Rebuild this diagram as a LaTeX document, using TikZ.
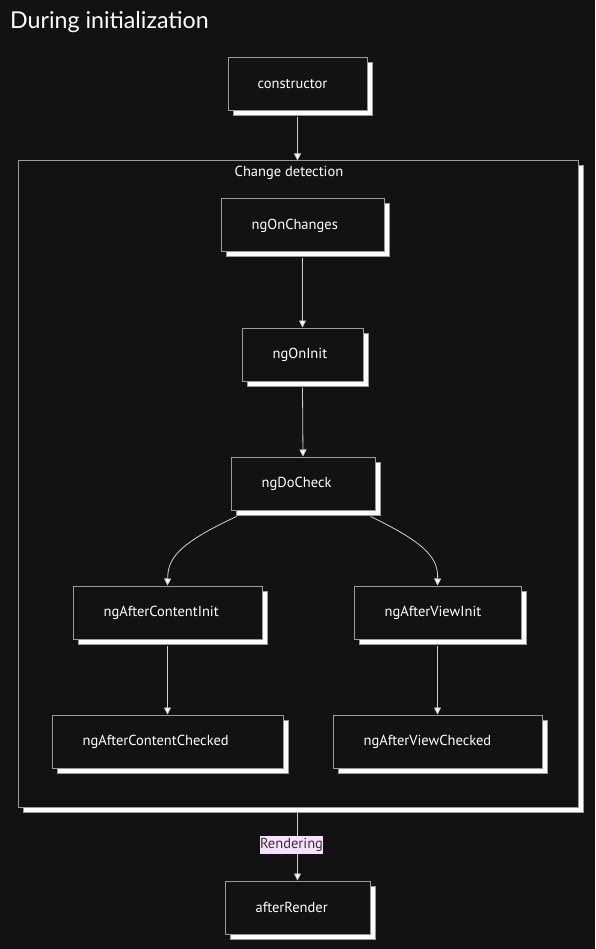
\documentclass[tikz,border=0pt]{standalone}
\usepackage{fontspec}
\setmainfont{PT Sans}
\newfontfamily\titlefont{Lato}
\usetikzlibrary{arrows.meta,shadows}

\definecolor{bgdark}{HTML}{121214}
\definecolor{edgegray}{HTML}{9A9A9A}
\definecolor{linegray}{HTML}{D0D0D0}
\definecolor{labelpink}{HTML}{F6E1FF}
\definecolor{labeltext}{HTML}{333333}

\tikzset{
	hookbox/.style={shape=rectangle, draw=edgegray, fill=bgdark, line width=1pt,
		general shadow={fill=white, draw=edgegray, shadow xshift=5pt, shadow yshift=-5pt}},
	hooktext/.style={anchor=west, text=white, font=\fontsize{14.5}{17}\selectfont, inner sep=0pt},
	flow/.style={draw=linegray, line width=0.8pt, -{Triangle[length=7pt, width=7pt, fill=white]}}
}

\begin{document}
\begin{tikzpicture}[x=1pt, y=-1pt]
			\fill[bgdark] (0, 0) rectangle (595, 949);
			\useasboundingbox (0, 0) rectangle (595, 949);
			\node[anchor=base west, text=white, font=\titlefont\fontsize{23.2}{26}\selectfont, inner sep=0pt](T) at (10, 29){During initialization};
			% cluster
			\node[hookbox, minimum width=560pt, minimum height=646pt](CD) at (298, 484){};
			\node[text=white, font=\fontsize{14.5}{17}\selectfont, inner sep=0pt](CDL) at (289, 173){Change detection};
			% hooks
			\node[hookbox, minimum width=139pt, minimum height=53pt](N1) at (297.5, 84.5){} node[hooktext] at ([xshift=30pt]N1.west){constructor};
			\node[hookbox, minimum width=163pt, minimum height=53pt](N2) at (302.5, 225.5){} node[hooktext] at ([xshift=31pt]N2.west){ngOnChanges};
			\node[hookbox, minimum width=121pt, minimum height=53pt](N3) at (302.5, 354.5){} node[hooktext] at ([xshift=31pt]N3.west){ngOnInit};
			\node[hookbox, minimum width=144pt, minimum height=53pt](N4) at (303, 483.5){} node[hooktext] at ([xshift=31pt]N4.west){ngDoCheck};
			\node[hookbox, minimum width=189pt, minimum height=53pt](N5) at (167.5, 612.5){} node[hooktext] at ([xshift=31pt]N5.west){ngAfterContentInit};
			\node[hookbox, minimum width=167pt, minimum height=53pt](N6) at (437.5, 612.5){} node[hooktext] at ([xshift=31pt]N6.west){ngAfterViewInit};
			\node[hookbox, minimum width=231pt, minimum height=53pt](N7) at (167.5, 741.5){} node[hooktext] at ([xshift=31pt]N7.west){ngAfterContentChecked};
			\node[hookbox, minimum width=209pt, minimum height=53pt](N8) at (437.5, 741.5){} node[hooktext] at ([xshift=31pt]N8.west){ngAfterViewChecked};
			\node[hookbox, minimum width=145pt, minimum height=53pt](N9) at (297.5, 907.5){} node[hooktext] at ([xshift=31pt]N9.west){afterRender};
			% connectors
			\draw[flow] ([yshift=-6pt]N1.south) -- (N1.south |- CD.north);
			\draw[flow] ([yshift=-6pt]N2.south) -- (N3.north);
			\draw[flow] ([yshift=-6pt]N3.south) -- (N4.north);
			\draw[flow] ([shift={(6, 6)}]N4.south west) .. controls (175, 545) and (168, 560) .. (N5.north);
			\draw[flow] ([shift={(-5, 6)}]N4.south east) .. controls (430, 545) and (438, 560) .. (N6.north);
			\draw[flow] ([yshift=-6pt]N5.south) -- (N7.north);
			\draw[flow] ([yshift=-6pt]N6.south) -- (N8.north);
			\draw[flow] ([yshift=-5pt]N9.north |- CD.south) -- node[pos=0.48, xshift=-6pt, fill=labelpink, text=labeltext, font=\fontsize{14.5}{17}\selectfont, inner xsep=0.5pt, inner ysep=2pt](R){Rendering} (N9.north);
		\end{tikzpicture}
\end{document}
